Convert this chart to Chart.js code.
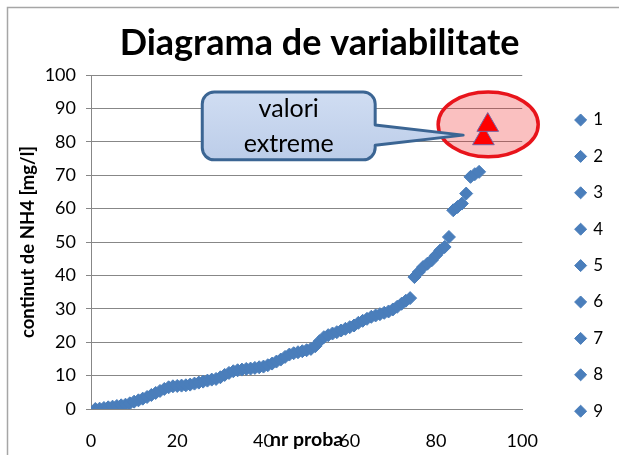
<!DOCTYPE html>
<html>
<head>
<meta charset="utf-8">
<script src="https://cdn.jsdelivr.net/npm/chart.js@4.4.1/dist/chart.umd.min.js"></script>
<style>
html,body{margin:0;padding:0;background:#fff;}
canvas{display:block;}
</style>
</head>
<body>
<canvas id="c" width="619" height="455"></canvas>
<script>
// ---------- data ----------
const sampleNumbers = [1,2,3,4,5,6,7,8,9,10,11,12,13,14,15,16,17,18,19,20,
  21,22,23,24,25,26,27,28,29,30,31,32,33,34,35,36,37,38,39,40,
  41,42,43,44,45,46,47,48,49,50,51,52,53,54,55,56,57,58,59,60,
  61,62,63,64,65,66,67,68,69,70,71,72,73,74,75,76,77,78,79,80,
  81,82,83,84,85,86,87,88,89,90];
const nh4Values = [0.0,0.1,0.3,0.5,0.7,0.9,1.1,1.3,1.7,2.2,
  2.6,3.1,3.6,4.2,4.8,5.4,6.0,6.5,6.8,6.9,
  7.0,7.1,7.3,7.6,7.9,8.2,8.5,8.8,9.0,9.5,
  10.2,10.8,11.3,11.6,11.8,12.0,12.1,12.3,12.5,12.7,
  13.1,13.6,14.2,14.8,15.6,16.3,16.7,17.0,17.3,17.6,
  18.0,18.8,20.3,21.5,22.1,22.6,23.0,23.5,24.0,24.5,
  25.0,25.8,26.4,27.0,27.6,28.0,28.4,28.8,29.2,29.8,
  30.6,31.5,32.4,33.2,39.5,41.0,42.5,43.5,44.5,46.0,
  47.5,48.5,51.5,59.5,60.5,61.5,64.5,69.5,70.3,71.0];
const extremeNumbers = [91, 92];
const extremeValues = [81, 85];
const legendLabels = ['1','2','3','4','5','6','7','8','9'];
const chartTitle = 'Diagrama de variabilitate';
const xAxisTitle = 'nr proba';
const yAxisTitle = 'continut de NH4 [mg/l]';
const calloutLines = ['valori', 'extreme'];

// ---------- annotation geometry (data units) ----------
const highlightEllipse = { cx: 92.1, cy: 85.2, rx: 11.6, ry: 9.7 };
const calloutBox = { x0: 25.8, x1: 65.9, yTop: 94.9, yBottom: 74.6, baseTop: 85.0, baseBottom: 79.0, tipX: 86.3, tipY: 82.0 };

const BLUE = '#4a7ebb';
const GRID = '#878787';
const TITLE_SHIFT = 13;
const LEGEND_GAP = 35;

const mainPoints = sampleNumbers.map((n, i) => ({ x: n, y: nh4Values[i] }));
const extremePoints = extremeNumbers.map((n, i) => ({ x: n, y: extremeValues[i] }));

const pageDecor = {
  id: 'pageDecor',
  beforeDraw(chart) {
    const ctx = chart.ctx;
    ctx.save();
    ctx.fillStyle = '#fff';
    ctx.fillRect(0, 0, chart.width, chart.height);
    ctx.strokeStyle = '#a6a6a6';
    ctx.lineWidth = 1.5;
    ctx.beginPath();
    ctx.moveTo(7.5, chart.height);
    ctx.lineTo(7.5, 7.5);
    ctx.lineTo(chart.width, 7.5);
    ctx.stroke();
    ctx.restore();
  },
  afterLayout(chart) {
    if (chart.titleBlock) {
      chart.titleBlock.left += TITLE_SHIFT;
      chart.titleBlock.right += TITLE_SHIFT;
    }
  }
};

const annotations = {
  id: 'annotations',
  beforeDatasetsDraw(chart) {
    const { ctx } = chart;
    const x = chart.scales.x, y = chart.scales.y;
    ctx.save();
    // highlight ellipse
    const cx = x.getPixelForValue(highlightEllipse.cx);
    const cy = y.getPixelForValue(highlightEllipse.cy);
    const rx = Math.abs(x.getPixelForValue(highlightEllipse.cx + highlightEllipse.rx) - cx);
    const ry = Math.abs(y.getPixelForValue(highlightEllipse.cy + highlightEllipse.ry) - cy);
    ctx.beginPath();
    ctx.ellipse(cx, cy, rx, ry, 0, 0, Math.PI * 2);
    ctx.fillStyle = 'rgba(236,28,28,0.28)';
    ctx.fill();
    ctx.lineWidth = 3.5;
    ctx.strokeStyle = '#e8141b';
    ctx.stroke();

    // callout
    const L = x.getPixelForValue(calloutBox.x0), R = x.getPixelForValue(calloutBox.x1);
    const T = y.getPixelForValue(calloutBox.yTop), B = y.getPixelForValue(calloutBox.yBottom);
    const bt = y.getPixelForValue(calloutBox.baseTop), bb = y.getPixelForValue(calloutBox.baseBottom);
    const tx = x.getPixelForValue(calloutBox.tipX), ty = y.getPixelForValue(calloutBox.tipY);
    const r = 12;
    ctx.beginPath();
    ctx.moveTo(L + r, T);
    ctx.lineTo(R - r, T);
    ctx.arcTo(R, T, R, T + r, r);
    ctx.lineTo(R, bt);
    ctx.lineTo(tx, ty);
    ctx.lineTo(R, bb);
    ctx.lineTo(R, B - r);
    ctx.arcTo(R, B, R - r, B, r);
    ctx.lineTo(L + r, B);
    ctx.arcTo(L, B, L, B - r, r);
    ctx.lineTo(L, T + r);
    ctx.arcTo(L, T, L + r, T, r);
    ctx.closePath();
    const grad = ctx.createLinearGradient(0, T, 0, B);
    grad.addColorStop(0, '#d0ddf2');
    grad.addColorStop(1, '#bccde9');
    ctx.fillStyle = grad;
    ctx.fill();
    ctx.lineWidth = 3;
    ctx.lineJoin = 'round';
    ctx.strokeStyle = '#3b6593';
    ctx.stroke();

    ctx.fillStyle = '#000';
    ctx.font = '25px Lato';
    ctx.textAlign = 'center';
    ctx.textBaseline = 'alphabetic';
    const mid = (L + R) / 2;
    ctx.fillText(calloutLines[0], mid, T + (B - T) * 0.37);
    ctx.fillText(calloutLines[1], mid, T + (B - T) * 0.885);
    ctx.restore();
  }
};

Chart.defaults.font.family = 'Lato';
Chart.defaults.color = '#000';

new Chart(document.getElementById('c'), {
  type: 'scatter',
  data: {
    datasets: [
      {
        label: 'valori',
        data: mainPoints,
        pointStyle: 'rectRot',
        pointRadius: 6.5,
        pointBackgroundColor: BLUE,
        pointBorderColor: BLUE,
        pointBorderWidth: 1,
        showLine: false
      },
      {
        label: 'extreme',
        data: extremePoints,
        pointStyle: 'triangle',
        pointRadius: 12.5,
        pointBackgroundColor: '#ff0000',
        pointBorderColor: '#7565a3',
        pointBorderWidth: 1,
        showLine: false
      }
    ]
  },
  options: {
    responsive: false,
    animation: false,
    devicePixelRatio: 1,
    events: [],
    layout: { padding: { left: 0, top: 0, right: 6, bottom: 0 } },
    scales: {
      x: {
        type: 'linear',
        min: 0, max: 100,
        ticks: { stepSize: 20, padding: 13, font: { size: 18 }, color: '#000' },
        grid: { display: false },
        border: { display: true, color: GRID, width: 1 },
        title: { display: true, text: xAxisTitle, font: { size: 19.5, weight: 'bold' }, color: '#000', padding: { top: 0, bottom: 4 } },
        afterFit(s) { s.height = 46; }
      },
      y: {
        type: 'linear',
        position: 'left',
        min: 0, max: 100,
        ticks: { stepSize: 10, padding: 10, font: { size: 18 }, color: '#000' },
        grid: { color: GRID, lineWidth: 1, drawTicks: true, tickLength: 5 },
        border: { display: true, color: GRID, width: 1 },
        title: { display: true, text: yAxisTitle, font: { size: 18.5, weight: 'bold' }, color: '#000', padding: { top: 17, bottom: 0 } },
        afterFit(s) { s.width = 91; }
      },
      yR: {
        type: 'linear',
        position: 'right',
        display: true,
        grid: { display: false },
        border: { display: false },
        ticks: { display: false },
        afterFit(s) { s.width = LEGEND_GAP; }
      }
    },
    plugins: {
      tooltip: { enabled: false },
      title: {
        display: true,
        text: chartTitle,
        font: { size: 36, weight: 'bold' },
        color: '#000',
        padding: { top: 21.8, bottom: 10 }
      },
      legend: {
        display: true,
        position: 'right',
        align: 'start',
        onClick: () => {},
        title: { display: true, text: ' ', font: { size: 10 }, padding: { top: 80.1, bottom: 0 } },
        labels: {
          usePointStyle: true,
          boxWidth: 8,
          boxHeight: 8.5,
          padding: 19.4,
          font: { size: 17 },
          color: '#000',
          generateLabels: () => legendLabels.map((t) => ({
            text: t,
            fillStyle: BLUE,
            strokeStyle: BLUE,
            lineWidth: 1,
            pointStyle: 'rectRot',
            hidden: false,
            datasetIndex: 0,
            fontColor: '#000'
          }))
        }
      }
    }
  },
  plugins: [pageDecor, annotations]
});
</script>
</body>
</html>
